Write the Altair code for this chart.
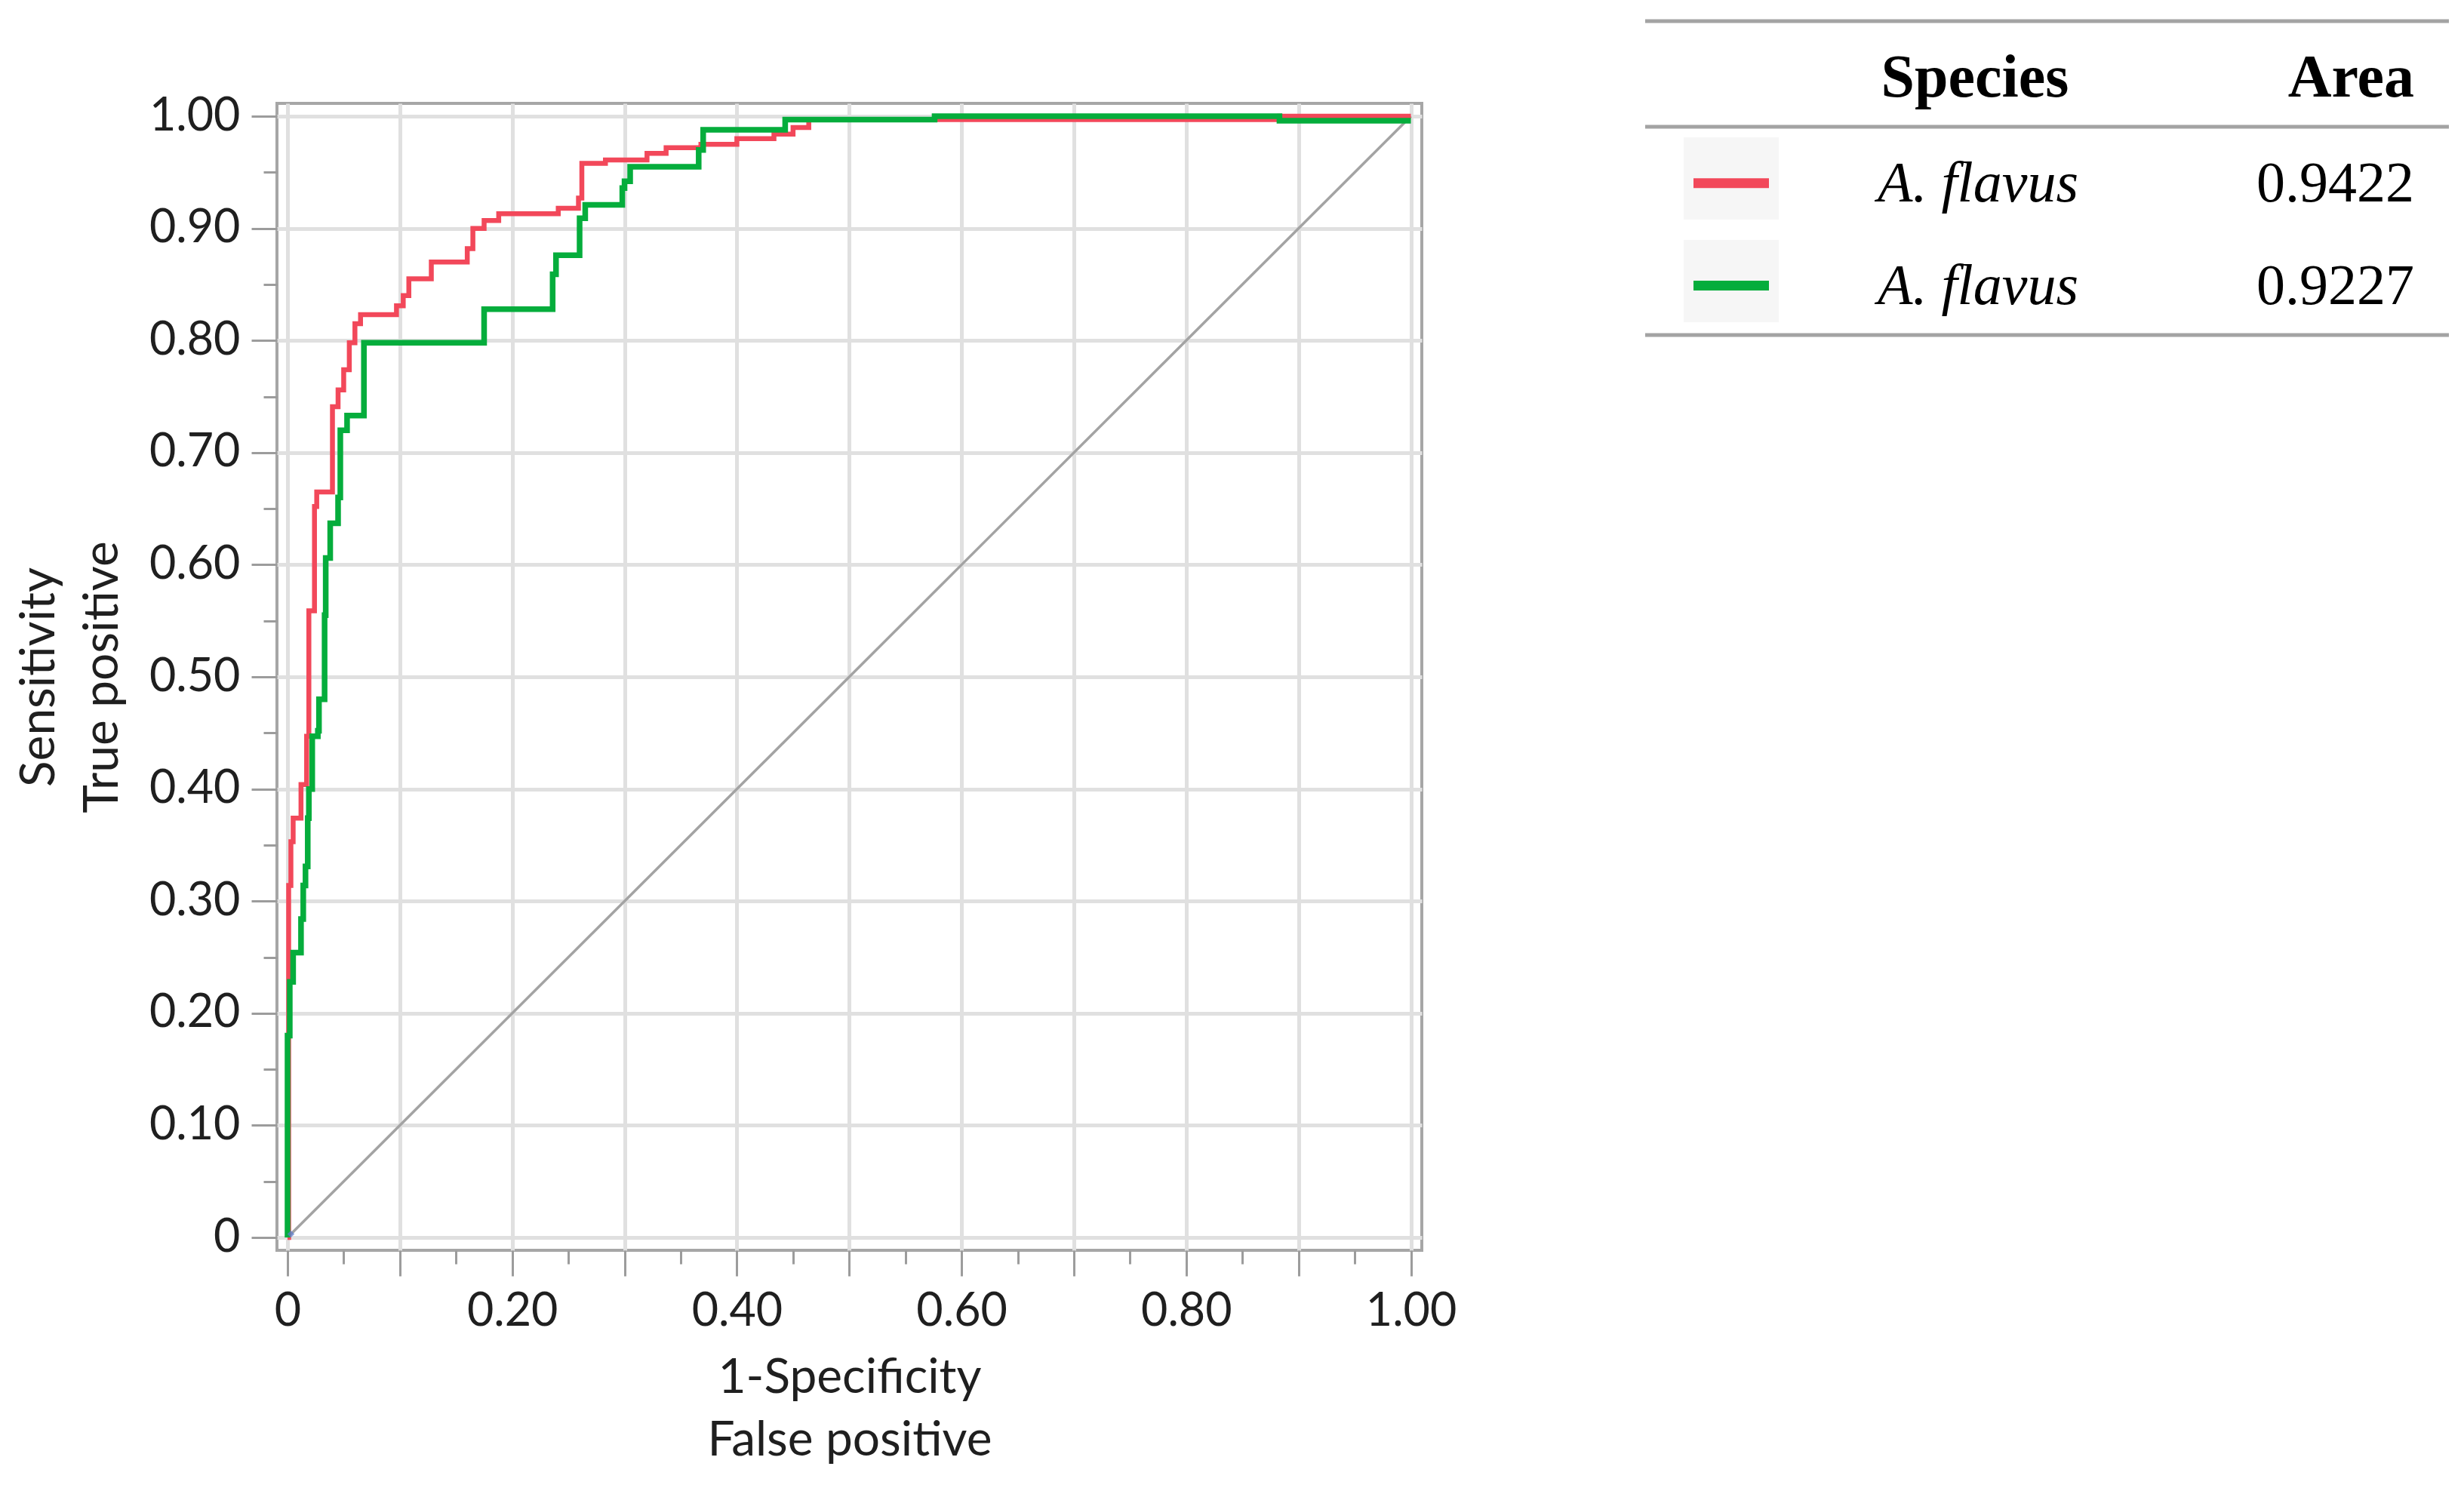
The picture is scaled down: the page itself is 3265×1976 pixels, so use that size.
import altair as alt
import pandas as pd

# ---- ROC curve data (corner points, step-after) ----
red_fpr = [0.000, 0.001, 0.003, 0.005, 0.012, 0.017, 0.019, 0.024, 0.026, 0.040,
           0.045, 0.050, 0.055, 0.060, 0.065, 0.097, 0.103, 0.108, 0.128, 0.160,
           0.165, 0.175, 0.188, 0.241, 0.259, 0.262, 0.283, 0.320, 0.337, 0.368,
           0.400, 0.433, 0.450, 0.464, 0.883, 1.000]
red_tpr = [0.000, 0.314, 0.353, 0.374, 0.404, 0.447, 0.559, 0.652, 0.665, 0.741,
           0.756, 0.774, 0.798, 0.815, 0.823, 0.831, 0.840, 0.855, 0.870, 0.882,
           0.900, 0.907, 0.913, 0.918, 0.927, 0.958, 0.961, 0.967, 0.972, 0.975,
           0.980, 0.984, 0.990, 0.997, 1.000, 1.000]

green_fpr = [0.000, 0.000, 0.002, 0.005, 0.012, 0.014, 0.016, 0.018, 0.019, 0.022,
             0.027, 0.028, 0.033, 0.034, 0.038, 0.045, 0.047, 0.053, 0.068, 0.175,
             0.236, 0.239, 0.260, 0.265, 0.298, 0.300, 0.305, 0.366, 0.370, 0.443,
             0.576, 0.883, 1.000]
green_tpr = [0.000, 0.180, 0.228, 0.254, 0.284, 0.314, 0.331, 0.374, 0.400, 0.447,
             0.452, 0.480, 0.555, 0.606, 0.637, 0.660, 0.720, 0.733, 0.798, 0.828,
             0.859, 0.876, 0.909, 0.921, 0.936, 0.942, 0.955, 0.970, 0.988, 0.997,
             1.000, 0.996, 0.996]

diag_x = [0.0, 1.0]
diag_y = [0.0, 1.0]

origin_x = [0.003]
origin_y = [0.003]

# ---- legend table ----
species = ["A. flavus", "A. flavus"]
areas = ["0.9422", "0.9227"]
colors = ["#F2485A", "#05AD3C"]
header = ["Species", "Area"]

ticks = [0.0, 0.05, 0.1, 0.15, 0.2, 0.25, 0.3, 0.35, 0.4, 0.45, 0.5,
         0.55, 0.6, 0.65, 0.7, 0.75, 0.8, 0.85, 0.9, 0.95, 1.0]

W, H = 1517, 1520
xs = alt.Scale(domain=[-0.0094, 1.0097], nice=False, zero=False)
ys = alt.Scale(domain=[-0.0114, 1.0115], nice=False, zero=False)

major = "round(datum.value * 20) % 2 == 0"
x_axis = alt.Axis(
    values=ticks,
    title=["1-Specificity", "False positive"],
    labelExpr="round(datum.value * 20) % 4 == 0 ? (datum.value == 0 ? '0' : format(datum.value, '.2f')) : ''",
    tickSize={"condition": {"test": major, "value": 34}, "value": 18},
    gridOpacity={"condition": {"test": major, "value": 1}, "value": 0},
    grid=True, domain=False, labelFlush=False, labelOverlap=False,
    labelPadding=17, titlePadding=26, titleLineHeight=83,
)
y_axis = alt.Axis(
    values=ticks,
    title=["Sensitivity", "True positive"],
    labelExpr="round(datum.value * 20) % 2 == 0 ? (datum.value == 0 ? '0' : format(datum.value, '.2f')) : ''",
    tickSize={"condition": {"test": major, "value": 34}, "value": 18},
    gridOpacity={"condition": {"test": major, "value": 1}, "value": 0},
    grid=True, domain=False, labelFlush=False, labelOverlap=False,
    labelPadding=15, titlePadding=29, titleLineHeight=84,
)

def curve_df(xv, yv):
    return pd.DataFrame({"x": xv, "y": yv, "i": list(range(len(xv)))})

X = alt.X("x:Q", scale=xs, axis=x_axis)
Y = alt.Y("y:Q", scale=ys, axis=y_axis)

diag = alt.Chart(curve_df(diag_x, diag_y)).mark_line(
    color="#a3a3a3", strokeWidth=3.5
).encode(x=X, y=Y, order="i:Q")

red = alt.Chart(curve_df(red_fpr, red_tpr)).mark_line(
    color=colors[0], strokeWidth=6.5, interpolate="step-after"
).encode(x=X, y=Y, order="i:Q")

green = alt.Chart(curve_df(green_fpr, green_tpr)).mark_line(
    color=colors[1], strokeWidth=7.5, interpolate="step-after"
).encode(x=X, y=Y, order="i:Q")

origin = alt.Chart(curve_df(origin_x, origin_y)).mark_point(
    shape="diamond", filled=True, color="#5a7fd0", size=90, opacity=0.7
).encode(x=X, y=Y)

one = pd.DataFrame({"k": [0]})

# table geometry (pixels relative to plot origin)
T_X0, T_X1 = 1813, 2878
rule_ys = [-109, 31, 307]
row_base = [130, 266]
row_line = [105.7, 241.5]
box_top = [45, 181]
box_bot = [154, 290]

layers = [diag, red, green, origin]

for ry in rule_ys:
    layers.append(alt.Chart(one).mark_rule(color="#a3a3a3", strokeWidth=5).encode(
        x=alt.value(T_X0), x2=alt.value(T_X1), y=alt.value(ry)))

layers.append(alt.Chart(one).mark_text(
    text=header[0], font="Liberation Serif", fontWeight="bold", fontSize=80,
    align="center", baseline="alphabetic", color="#000000"
).encode(x=alt.value(2250), y=alt.value(-9)))
layers.append(alt.Chart(one).mark_text(
    text=header[1], font="Liberation Serif", fontWeight="bold", fontSize=80,
    align="right", baseline="alphabetic", color="#000000"
).encode(x=alt.value(2832), y=alt.value(-9)))

for k in range(len(species)):
    layers.append(alt.Chart(one).mark_rect(color="#f6f6f6").encode(
        x=alt.value(1864), x2=alt.value(1990),
        y=alt.value(box_top[k]), y2=alt.value(box_bot[k])))
    layers.append(alt.Chart(one).mark_rule(color=colors[k], strokeWidth=13).encode(
        x=alt.value(1877), x2=alt.value(1977), y=alt.value(row_line[k])))
    layers.append(alt.Chart(one).mark_text(
        text=species[k], font="Liberation Serif", fontStyle="italic", fontSize=76,
        align="left", baseline="alphabetic", color="#000000"
    ).encode(x=alt.value(2121), y=alt.value(row_base[k])))
    layers.append(alt.Chart(one).mark_text(
        text=areas[k], font="Liberation Serif", fontSize=76,
        align="right", baseline="alphabetic", color="#000000"
    ).encode(x=alt.value(2832), y=alt.value(row_base[k])))

chart = alt.layer(*layers).properties(
    width=W, height=H,
    autosize="none",
    padding={"left": 359, "top": 129, "right": 1370, "bottom": 300},
    background="#ffffff",
).configure_view(
    stroke="#a6a6a6", strokeWidth=4
).configure_axis(
    gridColor="#e0e0e0", gridWidth=5,
    tickColor="#9c9c9c", tickWidth=3,
    labelFont="Lato", labelFontSize=61, labelColor="#1f1f1f",
    titleFont="Lato", titleFontSize=64, titleFontWeight="normal", titleColor="#1f1f1f",
)

chart.save("out.html", embed_options={"renderer": "svg", "actions": False})
